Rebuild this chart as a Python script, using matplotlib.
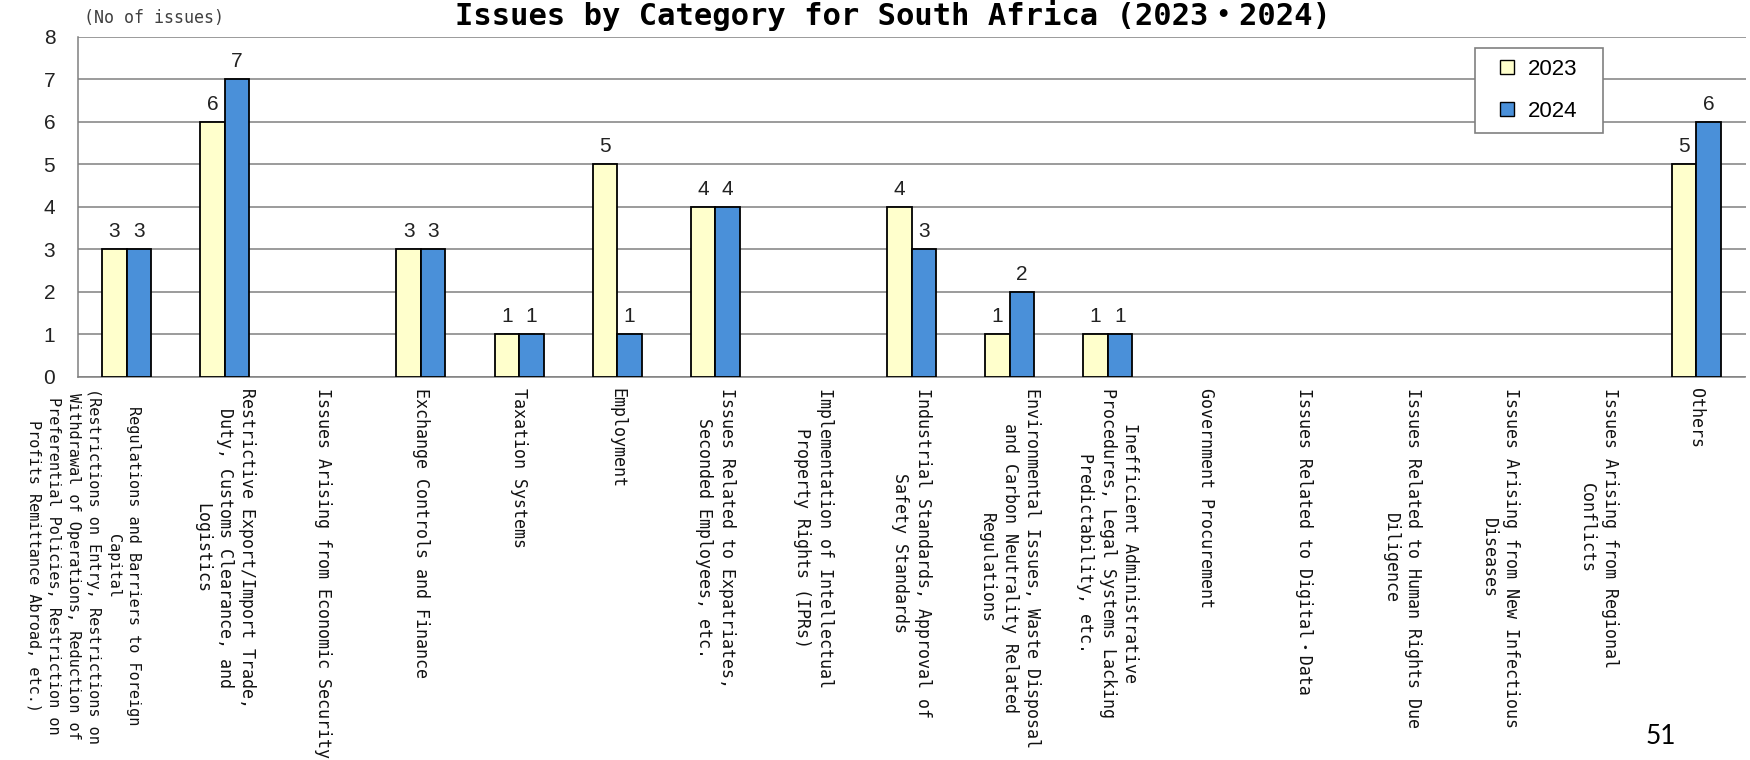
import matplotlib
matplotlib.use('Agg')
import matplotlib.pyplot as plt
import matplotlib.transforms as mtransforms
from matplotlib.lines import Line2D
import numpy as np

categories = [
    "Regulations and Barriers to Foreign\nCapital\n(Restrictions on Entry, Restrictions on\nWithdrawal of Operations, Reduction of\nPreferential Policies, Restriction on\nProfits Remittance Abroad, etc.)",
    "Restrictive Export/Import Trade,\nDuty, Customs Clearance, and\nLogistics",
    "Issues Arising from Economic Security",
    "Exchange Controls and Finance",
    "Taxation Systems",
    "Employment",
    "Issues Related to Expatriates,\nSeconded Employees, etc.",
    "Implementation of Intellectual\nProperty Rights (IPRs)",
    "Industrial Standards, Approval of\nSafety Standards",
    "Environmental Issues, Waste Disposal\nand Carbon Neutrality Related\nRegulations",
    "Inefficient Administrative\nProcedures, Legal Systems Lacking\nPredictability, etc.",
    "Government Procurement",
    "Issues Related to Digital・Data",
    "Issues Related to Human Rights Due\nDiligence",
    "Issues Arising from New Infectious\nDiseases",
    "Issues Arising from Regional\nConflicts",
    "Others",
]
values_2023 = [3, 6, 0, 3, 1, 5, 4, 0, 4, 1, 1, 0, 0, 0, 0, 0, 5]
values_2024 = [3, 7, 0, 3, 1, 1, 4, 0, 3, 2, 1, 0, 0, 0, 0, 0, 6]
series_names = ["2023", "2024"]
y_ticks = [0, 1, 2, 3, 4, 5, 6, 7, 8]
title_text = "Issues by Category for South Africa (2023・2024)"
unit_text = "(No of issues)"
page_number = "51"

MONO = ['DejaVu Sans Mono', 'Noto Sans CJK JP']
NUM = ['Liberation Sans', 'DejaVu Sans']
colors = ['#FFFFCC', '#4A90D9']
grid_color = '#808080'

W, H = 1750, 760
fig = plt.figure(figsize=(W / 100, H / 100), dpi=100)
ax_l, ax_r, ax_t, ax_b = 77.5, 1745.5, 37, 377
ax = fig.add_axes([ax_l / W, 1 - ax_b / H, (ax_r - ax_l) / W, (ax_b - ax_t) / H])

x = np.arange(len(categories))
bw = 0.25
for i, (vals, name) in enumerate(zip([values_2023, values_2024], series_names)):
    lw = [1.3 if v else 0 for v in vals]
    b = ax.bar(x + (i - 0.5) * bw, vals, bw, color=colors[i], edgecolor='black',
               linewidth=lw, label=name, zorder=3)
    ax.bar_label(b, labels=[str(v) if v else '' for v in vals], padding=6,
                 fontsize=15, family=NUM, color='#222222')

ax.set_xlim(-0.5, len(categories) - 0.5)
ax.set_ylim(0, 8)
ax.set_yticks(y_ticks)
ax.set_yticklabels([str(t) for t in y_ticks], fontsize=15, family=NUM, color='#222222')
ax.yaxis.grid(True, color=grid_color, linewidth=1.1, zorder=0)
ax.set_axisbelow(True)
for s in ['top', 'right']:
    ax.spines[s].set_visible(False)
for s in ['left', 'bottom']:
    ax.spines[s].set_color(grid_color)
    ax.spines[s].set_linewidth(1.1)

ax.tick_params(axis='y', length=0, pad=16)
ax.tick_params(axis='x', length=0, pad=8)
ax.set_xticks(x)
ax.set_xticklabels(categories, rotation=-90, ha='center', va='top', ma='center',
                   fontsize=12, family=MONO, linespacing=1.32, color='#111111')
lbl0 = ax.get_xticklabels()[0]
lbl0.set_fontsize(11)
lbl0.set_linespacing(1.4)
lbl0.set_transform(lbl0.get_transform() +
                   mtransforms.ScaledTranslation(-43 / 100, 0, fig.dpi_scale_trans))

handles = [Line2D([], [], marker='s', linestyle='None', markersize=10,
                  markerfacecolor=c, markeredgecolor='black', markeredgewidth=1.0)
           for c in colors]
lx0 = (1475 - ax_l) / (ax_r - ax_l)
lx1 = (1603 - ax_l) / (ax_r - ax_l)
ly1 = (ax_b - 48) / (ax_b - ax_t)
leg = ax.legend(handles, series_names, loc='upper left',
                bbox_to_anchor=(lx0, ly1 - 0.25, lx1 - lx0, 0.25), mode='expand',
                prop={'family': NUM, 'size': 16}, frameon=True, fancybox=False,
                edgecolor='#808080', framealpha=1, borderpad=0.5, handlelength=1.9,
                handletextpad=0.0, labelspacing=0.95, borderaxespad=0)
leg.get_frame().set_linewidth(1.2)

fig.text(893 / W, 1 - 25 / H, title_text, ha='center', va='baseline', fontsize=22,
         fontweight='bold', family=MONO, color='black')
fig.text(84 / W, 1 - 18 / H, unit_text, ha='left', va='center', fontsize=12,
         family=MONO, color='#404040')
fig.text(1661 / W, 1 - 737 / H, page_number, ha='center', va='center', fontsize=19,
         family=['Lato', 'DejaVu Sans'], color='black')

fig.savefig('out.png', dpi=100)
